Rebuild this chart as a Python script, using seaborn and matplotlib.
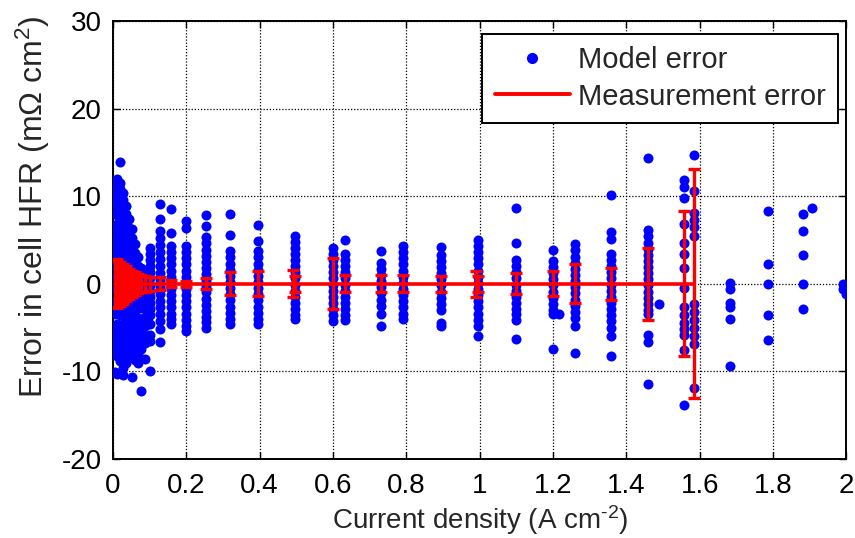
import numpy as np
import pandas as pd
import matplotlib
matplotlib.use("Agg")
import matplotlib.pyplot as plt
import seaborn as sns
from matplotlib.lines import Line2D

# ---------------- data ----------------
col_x = [0.006, 0.012, 0.02, 0.028, 0.036, 0.044, 0.052, 0.06, 0.068, 0.076, 0.088,
         0.101, 0.128, 0.158, 0.2, 0.253, 0.32, 0.396, 0.496, 0.601, 0.633, 0.731,
         0.792, 0.894, 0.996, 1.1, 1.199, 1.217, 1.26, 1.358, 1.46, 1.49, 1.557,
         1.585, 1.683, 1.785, 1.882, 1.905, 1.99, 1.998]
col_y = [
    [10.2, 9.4, 8.0, 6.5, 5.0, 3.6, 2.0, 0.8, -0.6, -2.0, -3.5, -5.0, -6.4, -7.8, -10.1],
    [12.0, 11.3, 10.6, 9.8, 8.9, 7.9, 6.8, 5.6, 4.4, 3.2, 1.9, 0.6, -0.7, -2.0, -3.3, -4.6, -5.9, -7.0, -8.3, -10.3],
    [13.9, 11.5, 10.8, 10.0, 9.2, 8.4, 7.5, 6.6, 5.6, 4.6, 3.5, 2.4, 1.2, 0.0, -1.2, -2.4, -3.6, -4.8, -5.9, -6.9, -7.9, -8.8],
    [10.4, 9.6, 8.7, 7.8, 6.8, 5.8, 4.8, 3.7, 2.6, 1.4, 0.2, -1.0, -2.2, -3.4, -4.6, -5.7, -6.7, -7.6, -8.5, -9.6, -10.4],
    [8.9, 8.0, 7.1, 6.2, 5.2, 4.2, 3.1, 2.0, 0.8, -0.4, -1.6, -2.8, -4.0, -5.1, -6.2, -7.2, -8.2, -9.0],
    [7.4, 6.4, 5.4, 4.4, 3.3, 2.2, 1.0, -0.2, -1.4, -2.6, -3.8, -4.9, -6.0, -7.1, -8.1],
    [6.2, 5.2, 4.2, 3.0, 1.8, 0.6, -0.6, -1.8, -3.0, -4.2, -5.3, -6.4, -7.4, -8.3, -10.7],
    [4.5, 3.5, 2.4, 1.2, 0.0, -1.2, -2.4, -3.6, -4.7, -5.8, -6.9, -7.8, -8.7],
    [3.0, 2.0, 0.9, -0.3, -1.5, -2.7, -3.9, -5.0, -6.1, -7.0, -8.0, -9.0],
    [1.8, 0.8, -0.4, -1.6, -2.8, -4.0, -5.1, -6.3, -7.4, -12.3],
    [1.2, 0.2, -0.8, -1.8, -2.8, -3.8, -4.8, -5.8, -6.8, -8.6],
    [4.1, 3.4, 2.7, 2.0, 1.3, 0.6, -0.1, -0.8, -1.5, -2.2, -2.9, -3.6, -4.6, -5.8, -6.5, -10.0],
    [9.1, 7.4, 6.0, 5.2, 4.4, 3.6, 2.8, 2.0, 1.2, 0.4, -0.4, -1.2, -2.0, -2.7, -3.5, -4.3, -5.2, -6.7],
    [8.5, 5.8, 4.3, 3.6, 2.9, 2.2, 1.5, 0.8, 0.1, -0.6, -1.3, -2.0, -2.7, -3.4, -4.0, -4.6],
    [7.2, 6.4, 4.3, 3.6, 2.9, 2.2, 1.5, 0.8, 0.1, -0.6, -1.3, -2.0, -2.7, -3.4, -4.1, -4.8, -5.4],
    [7.8, 6.6, 5.3, 4.6, 3.9, 3.2, 2.5, 1.8, 1.1, 0.4, -0.3, -1.0, -1.7, -2.4, -3.1, -3.8, -4.4, -5.0],
    [8.0, 5.6, 3.7, 3.0, 2.3, 1.6, 0.9, 0.2, -0.5, -1.2, -1.9, -2.6, -3.3, -4.0, -4.6],
    [6.7, 4.9, 3.7, 3.0, 2.3, 1.6, 0.9, 0.2, -0.5, -1.2, -1.9, -2.6, -3.3, -4.0, -4.6],
    [5.5, 4.8, 4.1, 3.4, 2.7, 2.0, 1.3, 0.6, -0.1, -0.8, -1.5, -2.2, -2.9, -3.6, -4.0],
    [4.1, 3.4, 2.7, 2.0, 1.3, 0.6, -0.1, -0.8, -1.5, -2.2, -2.9, -3.6, -4.3],
    [5.0, 3.4, 2.7, 2.0, 1.3, 0.6, -0.1, -0.8, -1.5, -2.2, -2.9, -3.6, -4.1],
    [3.7, 2.4, 1.7, 1.0, 0.3, -0.4, -1.1, -1.8, -2.5, -3.5, -4.8],
    [4.3, 3.6, 2.9, 2.2, 1.5, 0.8, 0.1, -0.6, -1.3, -2.0, -2.7, -3.4, -4.0],
    [4.2, 3.3, 2.6, 1.9, 1.2, 0.5, -0.2, -0.9, -1.6, -2.3, -3.0, -4.5, -4.8],
    [5.0, 4.3, 3.6, 2.9, 2.2, 1.5, 0.8, 0.1, -0.6, -1.3, -2.0, -2.7, -3.4, -4.1, -4.8, -6.0],
    [8.7, 4.6, 2.7, 2.0, 1.3, 0.6, -0.1, -0.8, -1.5, -2.2, -2.9, -3.5, -4.1, -6.3],
    [3.8, 2.6, 1.9, 1.2, 0.5, -0.2, -0.9, -1.6, -2.3, -3.0, -3.5, -7.5],
    [-3.5],
    [4.5, 3.8, 3.1, 2.4, 1.7, 1.0, 0.3, -0.4, -1.1, -1.8, -2.5, -3.2, -3.9, -4.8, -7.9],
    [10.1, 5.9, 5.1, 3.4, 2.7, 2.0, 1.3, 0.6, -0.1, -0.8, -1.5, -2.2, -2.9, -3.6, -4.3, -5.0, -6.0, -8.3],
    [14.4, 6.1, 5.4, 4.7, 4.0, 3.3, 2.6, 1.9, 1.2, 0.5, -0.2, -0.9, -1.6, -2.3, -3.0, -3.5, -5.8, -6.6, -11.5],
    [-2.3],
    [11.9, 11.0, 9.8, 6.8, 4.6, 3.4, 1.8, -0.5, -2.7, -3.6, -4.5, -5.2, -5.8, -7.6, -13.8],
    [14.7, 10.6, 8.1, 7.3, 6.5, 5.5, -2.3, -3.2, -4.1, -5.0, -6.0, -6.9, -11.9],
    [0.1, -0.6, -2.2, -2.7, -4.0, -9.4],
    [8.3, 2.2, 0.0, -3.6, -6.4],
    [8.0, 6.0, 3.3, 0.0, -2.9],
    [8.6],
    [0.0, -0.6],
    [-1.2],
]

err_x = [0.006, 0.012, 0.02, 0.028, 0.036, 0.044, 0.052, 0.06, 0.068, 0.076, 0.088,
         0.101, 0.128, 0.158, 0.2, 0.253, 0.32, 0.396, 0.49, 0.496, 0.601, 0.633,
         0.731, 0.792, 0.894, 0.99, 0.996, 1.1, 1.199, 1.26, 1.358, 1.46, 1.557, 1.585]
err_y = [0.0] * len(err_x)
err_half = [2.6, 2.8, 2.5, 2.3, 2.0, 1.7, 1.5, 1.3, 1.1, 1.0, 0.9,
            0.8, 0.75, 0.4, 0.35, 0.6, 1.3, 1.4, 1.55, 0.9, 2.9, 0.95,
            1.0, 1.0, 0.9, 1.5, 0.9, 1.2, 1.4, 2.25, 1.85, 4.1, 8.3, 13.1]

x_ticks = [0, 0.2, 0.4, 0.6, 0.8, 1, 1.2, 1.4, 1.6, 1.8, 2]
x_tick_labels = ["0", "0.2", "0.4", "0.6", "0.8", "1", "1.2", "1.4", "1.6", "1.8", "2"]
y_ticks = [-20, -10, 0, 10, 20, 30]
y_tick_labels = ["-20", "-10", "0", "10", "20", "30"]

# ---------------- style ----------------
sns.set_style("ticks")
plt.rcParams["font.family"] = ["Liberation Sans", "DejaVu Sans"]
plt.rcParams["mathtext.fontset"] = "custom"
plt.rcParams["mathtext.rm"] = "Liberation Sans"
plt.rcParams["mathtext.it"] = "Liberation Sans"
plt.rcParams["mathtext.default"] = "regular"

rows = []
for xv, ys in zip(col_x, col_y):
    for yv in ys:
        rows.append((xv, yv))
df = pd.DataFrame(rows, columns=["current", "error"])
df_err = pd.DataFrame({"current": err_x, "error": err_y, "half": err_half})

fig = plt.figure(figsize=(8.55, 5.38), dpi=100)
ax = fig.add_axes([0.132, 0.147, 0.858, 0.814])

FS_TICK = 20
FS_XLAB = 20
FS_YLAB = 23
FS_LEG = 21

sns.scatterplot(data=df, x="current", y="error", ax=ax, color=(0, 0, 1),
                s=52, linewidth=0, zorder=3, legend=False)
sns.lineplot(data=df_err, x="current", y="error", ax=ax, color=(1, 0, 0),
             linewidth=2.6, zorder=4, legend=False)
ax.errorbar(df_err["current"], df_err["error"], yerr=df_err["half"], fmt="none",
            ecolor=(1, 0, 0), elinewidth=2.4, capsize=4.3, capthick=2.4, zorder=4)

ax.set_xlim(0, 2)
ax.set_ylim(-20, 30)
ax.set_xticks(x_ticks)
ax.set_xticklabels(x_tick_labels)
ax.set_yticks(y_ticks)
ax.set_yticklabels(y_tick_labels)
ax.grid(True, color="black", linestyle=(0, (1, 1.5)), linewidth=0.9)
ax.tick_params(direction="in", length=5, width=1, top=True, right=True,
               labelsize=FS_TICK, colors="black")
ax.tick_params(axis="x", pad=10)
ax.tick_params(axis="y", pad=8)
for sp in ax.spines.values():
    sp.set_visible(True)
    sp.set_color("black")
    sp.set_linewidth(1.4)

ax.set_xlabel("Current density (A cm$^{\u20102}$)", fontsize=FS_XLAB, labelpad=3)
ax.set_ylabel("Error in cell HFR (m\u03a9 cm$^{2}$)", fontsize=FS_YLAB)
ax.yaxis.set_label_coords(-0.083, 0.575)

handles = [Line2D([], [], marker="o", color=(0, 0, 1), linestyle="none", markersize=7),
           Line2D([], [], color=(1, 0, 0), linewidth=2.8)]
leg = ax.legend(handles, ["Model error", "Measurement error"], loc="upper right",
                bbox_to_anchor=(0.989, 0.970), borderaxespad=0, fontsize=FS_LEG,
                frameon=True, fancybox=False, framealpha=1, edgecolor="black",
                handlelength=2.57, handletextpad=0.3, borderpad=0.42, labelspacing=0.28)
leg.get_frame().set_linewidth(1.4)
leg.set_zorder(10)

fig.savefig("out.png", dpi=100)
